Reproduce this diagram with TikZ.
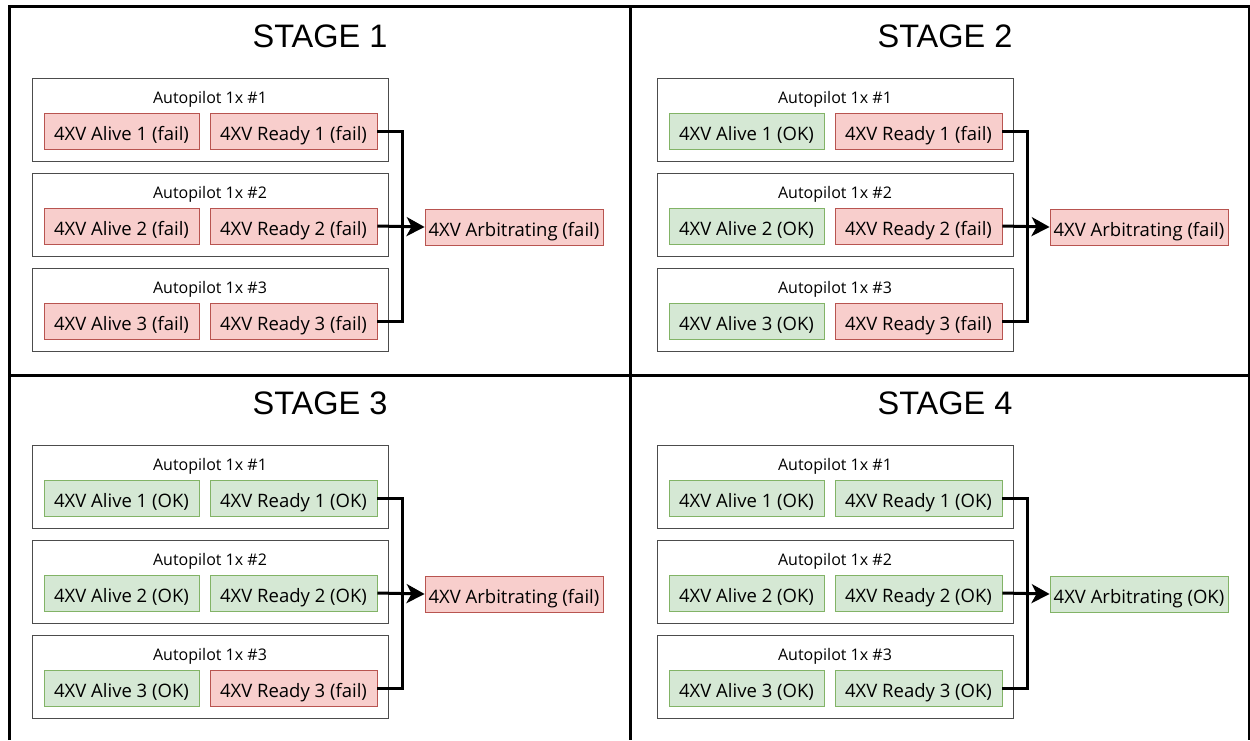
\documentclass[tikz,border=0pt]{standalone}
\usepackage{fontspec}
\setmainfont{Open Sans}
\newfontfamily\stagefont{Liberation Sans}
\usetikzlibrary{arrows.meta,calc}

\definecolor{failfill}{HTML}{F8CECC}
\definecolor{failline}{HTML}{B85450}
\definecolor{okfill}{HTML}{D5E8D4}
\definecolor{okline}{HTML}{82B366}

\tikzset{
  fail/.style={fill=failfill, draw=failline},
  OK/.style={fill=okfill, draw=okline},
  signal/.style={minimum height=36, inner sep=0pt, line width=0.8pt,
    text height=18pt, text depth=0pt,
    font=\fontsize{18.5}{22}\selectfont},
  autopilot/.style={draw=black!70, line width=0.9pt, minimum width=356,
    minimum height=83, anchor=north west, inner sep=0pt},
  aplabel/.style={anchor=base, inner sep=0pt, font=\fontsize{16}{18}\selectfont},
  stagetitle/.style={anchor=base, inner sep=0pt, font=\stagefont\fontsize{32.5}{36}\selectfont},
  wire/.style={line width=3pt, black},
  panel/.style={line width=3pt, black}
}

\begin{document}
\begin{tikzpicture}[x=1pt, y=-1pt]
    \useasboundingbox (0,0) rectangle (1250,740);
    % Panel frame
    \draw[panel] (9,740) -- (9,6.5) -- (1249,6.5) -- (1249,740);
    \draw[panel] (630,6.5) -- (630,740);
    \draw[panel] (9,375) -- (1249,375);
    % Four stages
    \foreach \st/\dx/\dy/\al/\ra/\rb/\rc/\ar in {
        1/0/0/fail/fail/fail/fail/fail,
        2/625/0/OK/fail/fail/fail/fail,
        3/0/367/OK/OK/OK/fail/fail,
        4/625/367/OK/OK/OK/OK/OK}{
      \begin{scope}[shift={(\dx,\dy)}]
        \node[stagetitle] (title\st) at (320,47) {STAGE \st};
        % Autopilot units
        \foreach \i/\y/\r in {1/78/\ra, 2/173/\rb, 3/268/\rc}{
          \node[autopilot] (ap\st-\i) at (32,\y) {};
          \node[aplabel] (aplbl\st-\i) at (210,\y+25) {Autopilot 1x \#\i};
          \node[signal, \al, minimum width=155] (alive\st-\i) at (121.5,\y+53)
            {4XV Alive \i\ (\al)};
          \node[signal, \r, minimum width=167] (ready\st-\i) at (293.5,\y+53)
            {4XV Ready \i\ (\r)};
        }
        % Arbitration
        \node[signal, \ar, minimum width=178] (arb\st) at (514,227)
          {4XV Arbitrating (\ar)};
        \coordinate (bus\st) at (402,227);
        \draw[wire] (ready\st-1.east) -| (bus\st);
        \draw[wire] (ready\st-3.east) -| (bus\st);
        \draw[wire, -{Stealth[length=18pt, width=19pt, inset=5pt]}]
          (ready\st-2.east) -- (arb\st.west);
      \end{scope}
    }
\end{tikzpicture}
\end{document}
